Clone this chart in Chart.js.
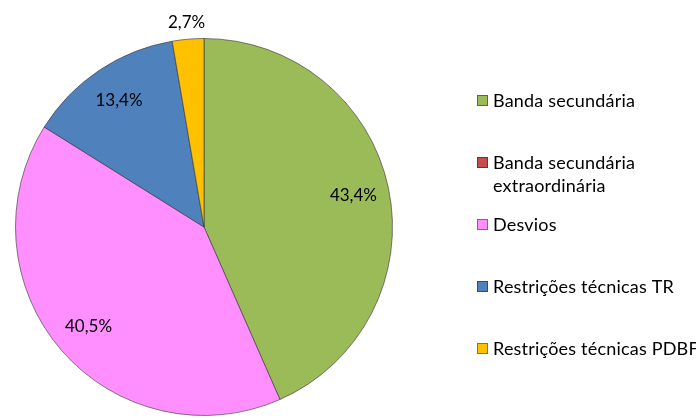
<!DOCTYPE html>
<html>
<head>
<meta charset="utf-8">
<script src="https://cdn.jsdelivr.net/npm/chart.js@4"></script>
<style>
  html, body { margin: 0; padding: 0; background: #fff; }
  #wrap { position: relative; width: 696px; height: 418px; }
</style>
</head>
<body>
<div id="wrap"><canvas id="pieChart"></canvas></div>
<script>
const categories = [
    ['Banda secundária'],
    ['Banda secundária', 'extraordinária'],
    ['Desvios'],
    ['Restrições técnicas TR'],
    ['Restrições técnicas PDBF']
];
const shares = [43.4, 0, 40.5, 13.4, 2.7];
const sliceColors = ['#9BBB59', '#C0504D', '#FF8FFF', '#4F81BD', '#FFC000'];
const edgeColors = ['#56702A', '#7A2E2C', '#A050A0', '#2C4D75', '#9A7400'];

const FONT = "'Lato', 'Liberation Sans', sans-serif";

// radial gradient per slice: flat fill with a darker rim near the edge
function sliceFill(ctx) {
    const chart = ctx.chart;
    const arc = chart.getDatasetMeta(0).data[ctx.dataIndex];
    if (!arc || !arc.outerRadius) return sliceColors[ctx.dataIndex];
    const g = chart.ctx.createRadialGradient(arc.x, arc.y, 0, arc.x, arc.y, arc.outerRadius);
    g.addColorStop(0, sliceColors[ctx.dataIndex]);
    g.addColorStop(0.96, sliceColors[ctx.dataIndex]);
    g.addColorStop(1, edgeColors[ctx.dataIndex]);
    return g;
}

// percentage labels, inside the slice or just outside for small ones
const valueLabels = {
    id: 'valueLabels',
    afterDatasetsDraw(chart) {
        const ctx = chart.ctx;
        const meta = chart.getDatasetMeta(0);
        ctx.save();
        ctx.font = '17px ' + FONT;
        ctx.fillStyle = '#000';
        ctx.textAlign = 'center';
        ctx.textBaseline = 'middle';
        meta.data.forEach((arc, i) => {
            if (!shares[i]) return;
            const mid = (arc.startAngle + arc.endAngle) / 2;
            const k = shares[i] < 5 ? 1.09 : 0.81;
            const x = arc.x + Math.cos(mid) * arc.outerRadius * k;
            const y = arc.y + Math.sin(mid) * arc.outerRadius * k;
            ctx.fillText(shares[i].toFixed(1).replace('.', ',') + '%', x, y);
        });
        ctx.restore();
    }
};

// legend on the right, one entry every 62px
const sideLegend = {
    id: 'sideLegend',
    afterDraw(chart) {
        const ctx = chart.ctx;
        ctx.save();
        ctx.font = '18px ' + FONT;
        ctx.letterSpacing = '0.2px';
        ctx.textBaseline = 'middle';
        categories.forEach((lines, i) => {
            const y = 101 + i * 62;
            ctx.fillStyle = sliceColors[i];
            ctx.fillRect(477, y - 6, 11, 11);
            ctx.strokeStyle = edgeColors[i];
            ctx.lineWidth = 1;
            ctx.strokeRect(477.5, y - 5.5, 10, 10);
            ctx.fillStyle = '#000';
            lines.forEach((t, j) => ctx.fillText(t, 493, y + j * 23));
        });
        ctx.restore();
    }
};

new Chart(document.getElementById('pieChart'), {
    type: 'pie',
    data: {
        labels: categories,
        datasets: [{
            data: shares,
            backgroundColor: sliceFill,
            borderColor: 'rgba(50, 50, 50, 0.6)',
            borderWidth: 1
        }]
    },
    options: {
        responsive: true,
        maintainAspectRatio: false,
        animation: false,
        layout: { padding: { left: 15, right: 303, top: 38, bottom: 2 } },
        plugins: {
            legend: { display: false },
            tooltip: { enabled: false }
        }
    },
    plugins: [valueLabels, sideLegend]
});
</script>
</body>
</html>
